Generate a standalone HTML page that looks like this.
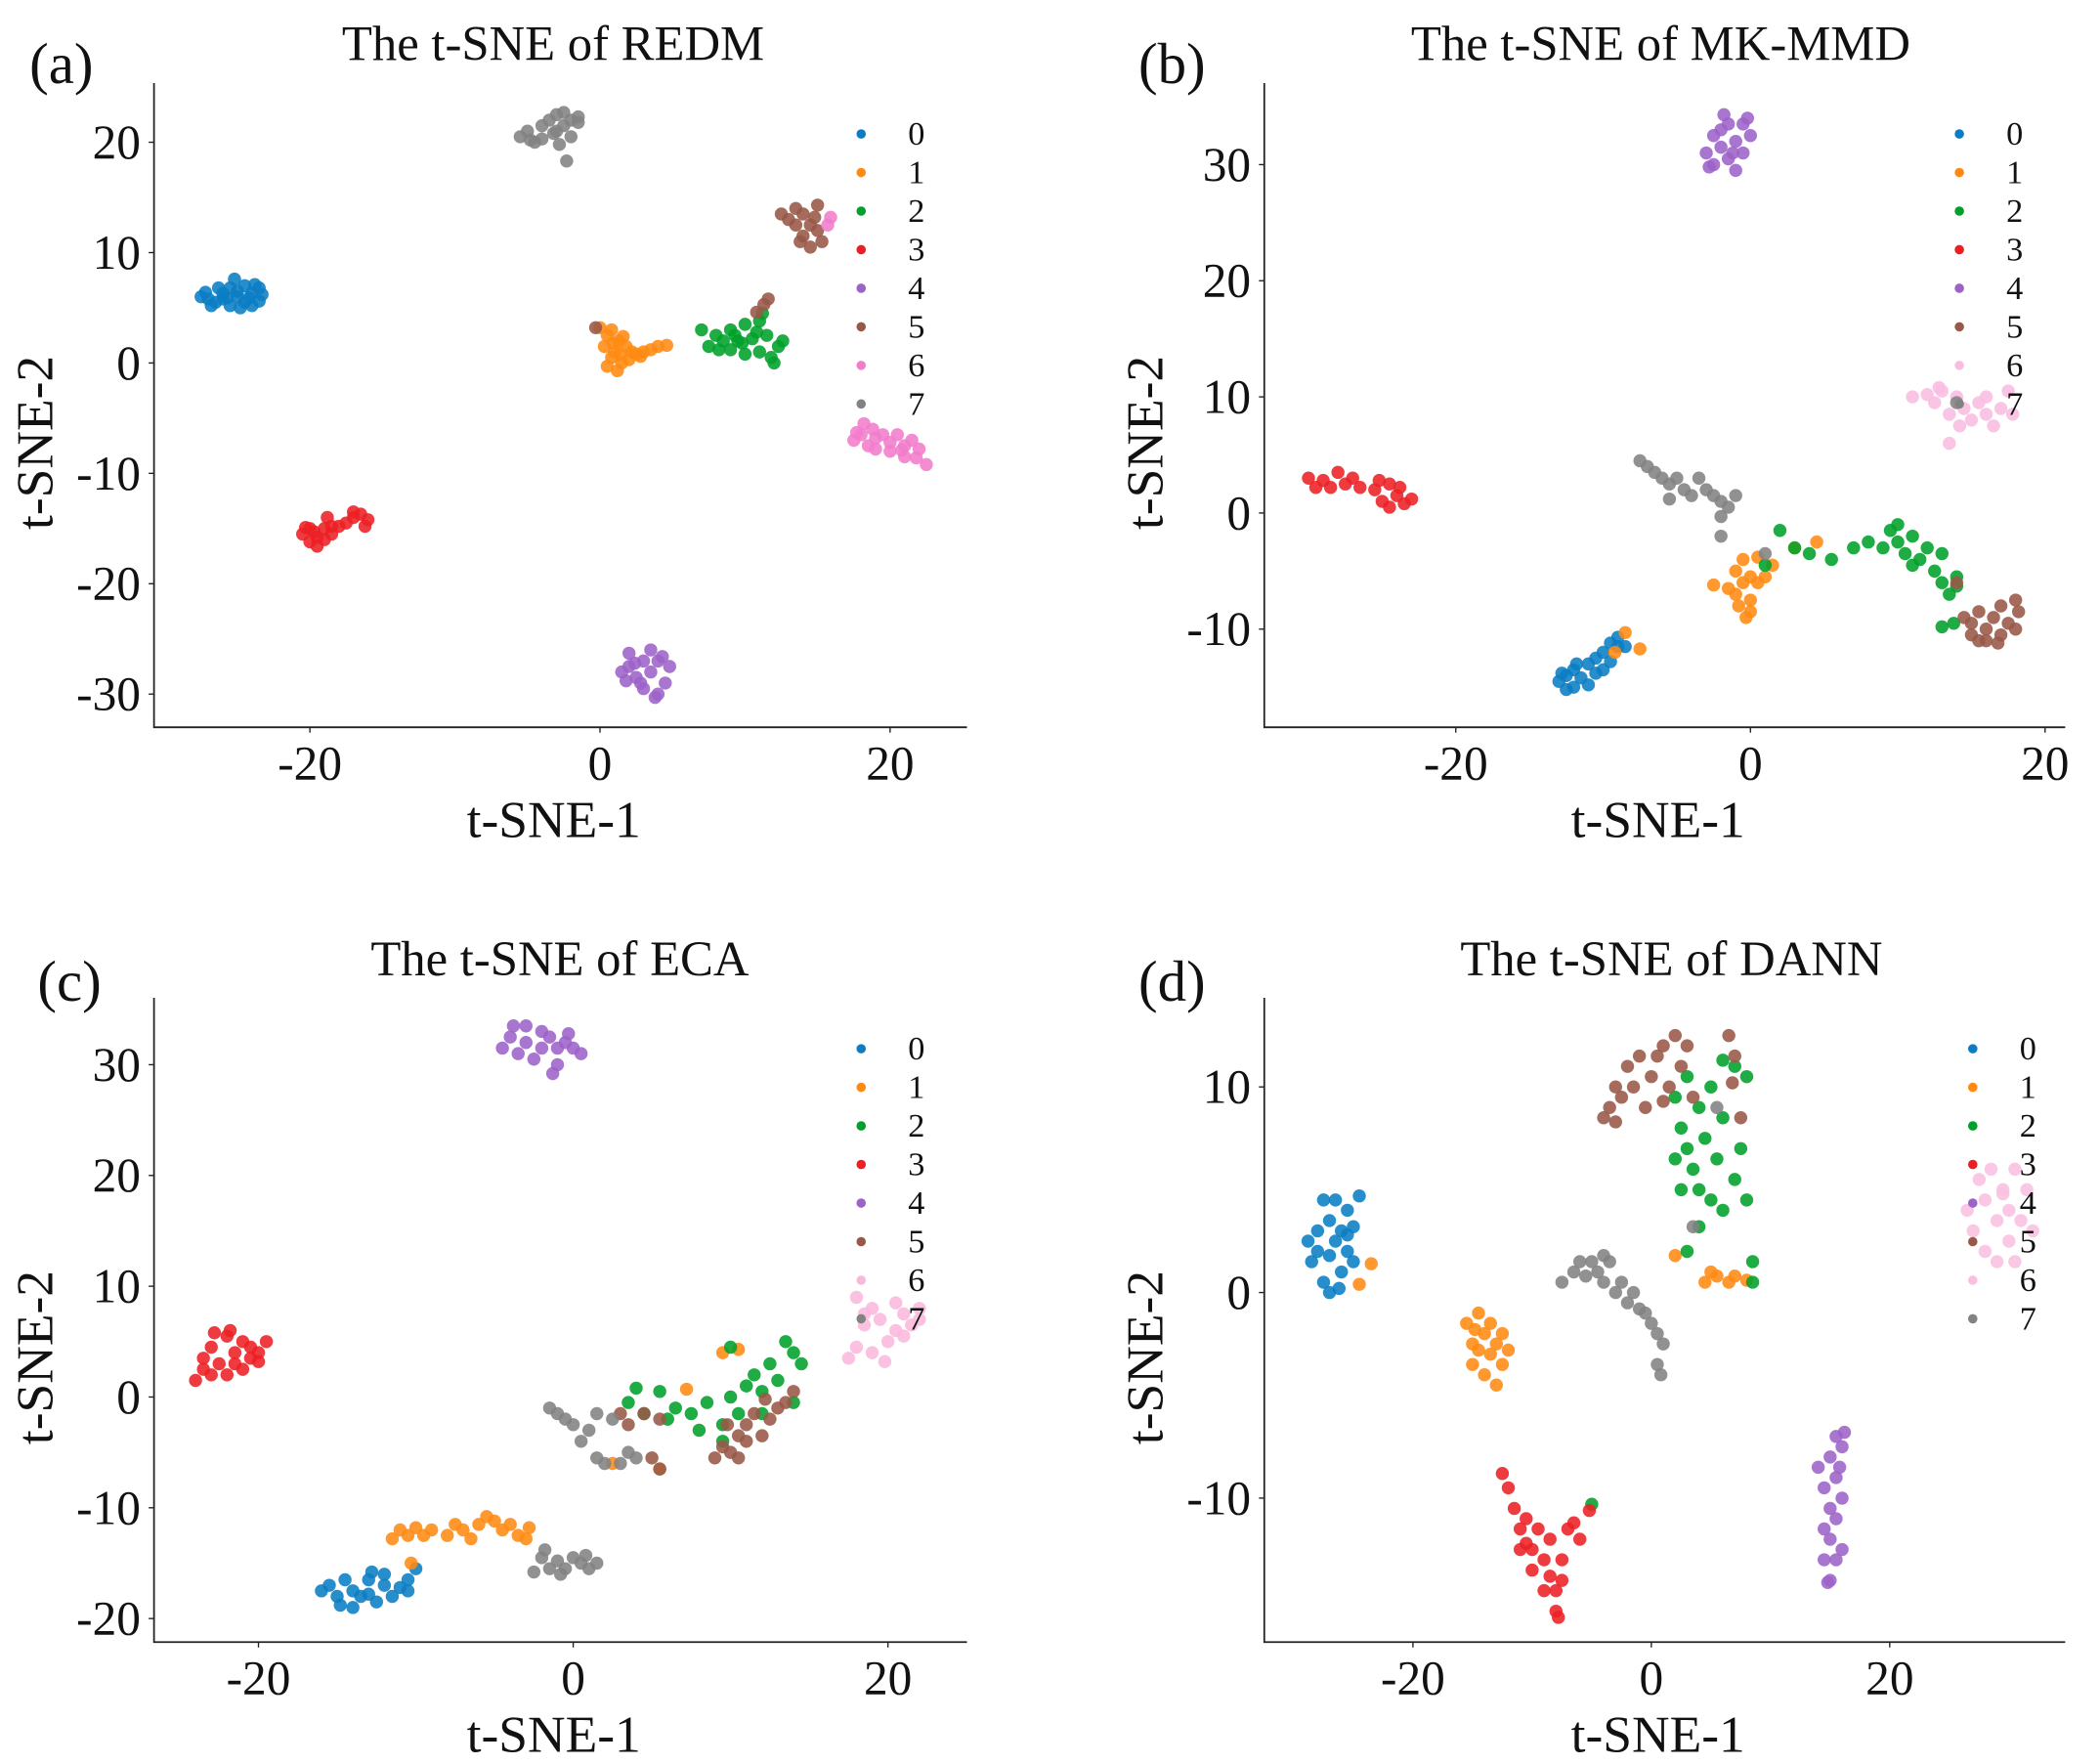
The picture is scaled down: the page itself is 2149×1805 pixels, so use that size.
<!DOCTYPE html>
<html><head><meta charset="utf-8"><style>
html,body{margin:0;padding:0;background:#fff}
svg{display:block}
text{font-family:"Liberation Serif",serif;fill:#111}
</style></head><body>
<svg id="fig" width="2149" height="1805" viewBox="0 0 1568 1317" xmlns="http://www.w3.org/2000/svg"></svg>
<script>
// ---- data: per-panel cluster points in t-SNE coordinates ("x,y x,y ...") ----
const classLabels = ["0","1","2","3","4","5","6","7"];
const classColors = ["#0a7dc4","#ff8a12","#00a02a","#ec2024","#9c62c8","#985848","#f27ccc","#828282"];
const panelTitles = ["The t-SNE of REDM","The t-SNE of MK-MMD","The t-SNE of ECA","The t-SNE of DANN"];
const panelTags = ["(a)","(b)","(c)","(d)"];
const xTicksA = [-20,0,20], yTicksA = [20,10,0,-10,-20,-30];
const xTicksB = [-20,0,20], yTicksB = [30,20,10,0,-10];
const xTicksC = [-20,0,20], yTicksC = [30,20,10,0,-10,-20];
const xTicksD = [-20,0,20], yTicksD = [10,0,-10];
const pointsA = [
"-27.5,6 -27,5.8 -26.5,5.5 -26,6.3 -25.5,5.2 -25.5,6.8 -25,6 -24.5,5.5 -24.5,7 -24,6.3 -23.5,5.6 -23.5,6.8 -26.8,5.2 -25.2,7.6 -24.8,5 -23.3,6.2 -26,5.8 -25,6.5 -24,5.2 -27.2,6.4 -26.3,6.8 -25.7,5.9 -24.2,5.9 -23.8,7.1",
"0,3.2 0.5,2.5 0.3,1.5 0.8,0.5 0.5,-0.3 1,1 1.3,2 1.5,0 1.8,1.5 2.2,1 2.5,0.8 3,1 3.5,1.2 4,1.5 4.6,1.6 0.8,3 1.2,-0.7 2,0.3 1.6,2.4 2.8,0.6 0.9,1.8 1.4,0.8",
"7,3 7.5,1.5 8,2.5 8.5,2 9,3 9,1.2 9.5,2 10,3.5 10,0.8 10.5,2.2 11,1 11,3.8 11.5,2.5 12,0 12.3,1.5 12.6,2 11.2,4.5 9.8,1.8 8.2,1.2 11.8,0.5 10.8,2.8 9.3,2.5",
"-20.5,-15.5 -20,-16.2 -20,-15 -19.5,-15.8 -19,-15 -19,-16 -18.5,-14.8 -18.5,-15.5 -18,-14.8 -17.5,-14.5 -17,-14 -16.5,-13.7 -16,-14.2 -16.2,-14.8 -17,-13.5 -20.3,-14.9 -19.5,-16.6 -18.8,-14 -19.7,-15.3",
"1.5,-28 2,-27.5 2,-26.3 2.5,-28.5 3,-27 3,-29.5 3.5,-28 3.5,-26 4,-27 4,-30 4.5,-29 4.8,-27.5 2.8,-29 3.8,-30.3 1.8,-28.8 4.3,-26.6 2.4,-27.2",
"12.5,13.5 13,13 13.5,14 13.5,12.5 14,13.5 14,11.5 14.5,12.5 14.5,10.5 15,12 15,14.3 15.3,11 13.8,11 14.8,13.2 11.3,5.3 11.6,5.8 10.8,4.6 -0.3,3.2",
"17.5,-7 18,-6.5 18.2,-5.5 18.5,-7.5 19,-6.8 19,-7.8 19.5,-6.5 20,-7.2 20,-8 20.5,-6.5 21,-7.5 21,-8.5 21.5,-7 22,-7.8 22.5,-9.2 21.8,-8.6 18.8,-6 20.8,-7.9 17.7,-6.3 15.7,12.5 15.9,13.2",
"-5.5,20.5 -5,21 -4.5,20 -4,21.5 -4,20.3 -3.5,22 -3,21 -3,22.5 -2.5,21.5 -2.5,22.7 -2,22 -2,20.5 -1.5,21.8 -1.5,22.3 -2.3,18.3 -4.8,20.2 -3.2,20.8 -2.8,19.8"];
const pointsB = [
"-13,-14.5 -12.5,-15.2 -12.5,-14 -12,-13.5 -12,-15 -11.5,-14.2 -11,-13 -11,-14.8 -10.5,-13.8 -10.5,-12.5 -10,-13.5 -10,-12 -9.5,-11.2 -9.5,-12.8 -9,-11.5 -9,-10.7 -8.5,-11.5 -11.8,-13 -12.8,-13.8",
"-1.5,-6.5 -1,-5 -1,-7 -0.5,-4 -0.5,-6 0,-8.5 0,-5.5 -0.3,-9 0,-7.5 0.5,-6 0.5,-3.8 1,-5.5 1.5,-4.5 -2.5,-6.2 -0.8,-8 4.5,-2.5 3,-3 -8.5,-10.3 -7.5,-11.7 -9.2,-12",
"2,-1.5 3,-3 4,-3.5 5.5,-4 7,-3 8,-2.5 9,-3 9.5,-1.5 10,-2.5 10.5,-3.5 11,-2 11.5,-4 12,-3 12.5,-5 13,-3.5 13.5,-7 13,-6 11,-4.5 10,-1 14,-5.5 14,-6.3 13.8,-9.5 13,-9.8 1,-4.5",
"-30,3 -29.5,2.2 -29,2.8 -28.5,2.2 -28,3.5 -27.5,2.5 -27,3 -26.5,2.2 -25.5,2 -25,1 -24.5,2.5 -24,1.5 -23.5,0.8 -23,1.2 -25.2,2.8 -24.5,0.5 -23.8,2.2",
"-3,31 -2.5,32.5 -2.5,30 -2,33 -2,31.5 -1.5,30.5 -1.5,33.5 -1,32 -0.5,31 -0.5,33.5 0,32.5 -1,29.5 -2.8,29.8 -0.2,34 -1.8,34.3 -1.2,31",
"14.5,-9 15,-10.5 15.5,-8.5 16,-10 16,-11 16.5,-9 17,-10.5 17,-8 17.5,-9.5 18,-7.5 18,-10 18.2,-8.5 15,-9.5 14,-6 16.8,-11.2 15.5,-11",
"11,10 12,10.2 12.5,9.5 13,10.5 13.5,8.5 14,10 14.5,9 15,8 15.5,9.5 16,10 16,8.5 16.5,7.5 17,9 17.5,10.5 17.8,8.5 14.2,7.5 13.5,6 12.8,10.8",
"-7.5,4.5 -7,4 -6.5,3.5 -6,3 -5.5,2.5 -5,3 -4.5,2 -4,1.5 -3.5,3 -3,2 -2.5,1.5 -2,1 -2,-0.3 -1.5,0.5 -1,1.5 -5.5,1.2 -2,-2 1,-3.5 14,9.5"];
const pointsC = [
"-16,-17.5 -15.5,-17 -15,-18 -14.5,-16.5 -14,-17.5 -14,-19 -13.5,-18 -13,-16.5 -13,-17.8 -12.5,-18.5 -12,-17 -12,-16 -11.5,-18 -11,-17.2 -10.5,-16.5 -10,-15.5 -10.5,-17.5 -14.8,-18.8 -12.8,-15.8",
"-11.5,-12.8 -11,-12 -10.5,-12.5 -10,-11.8 -9.5,-12.5 -9,-12 -8,-12.5 -7.5,-11.5 -7,-12 -6.5,-12.8 -6,-11.5 -5.5,-10.8 -5,-11.2 -4.5,-12 -4,-11.5 -3.5,-12.5 -3,-12.8 -2.8,-11.8 -10.3,-15 9.5,4 10.5,4.3 7.2,0.7 2.5,-6 5.5,-6.5",
"3.5,-0.5 4.5,-1.5 5.5,0.5 6,-2 6.5,-1 7.5,-1.5 8,-3 9.5,-2.5 10,0 10.5,-1.5 10,4.5 11,1 11.5,2 12,0.5 12,-1.5 12.5,3 13,1.5 13.5,5 14,4 14.5,3 14,-0.5 9.5,-4 4,0.8 8.5,-0.5",
"-24,1.5 -23.5,2.5 -23.5,3.5 -23,2 -23,4.5 -22.5,3 -22,5.5 -22,2 -21.5,4 -21.5,3 -21,5 -21,2.5 -20.5,3.5 -20.5,4.5 -20,4 -19.5,5 -22.8,5.8 -21.8,6 -20,3.2",
"-4.5,31.5 -4,32.5 -3.5,31 -3,33.5 -3,32 -2.5,30.5 -2,33 -2,31.5 -1.5,32.5 -1,30 -1,31.5 -0.5,32 0,31.5 0.5,31 -0.3,32.8 -3.8,33.5 -1.3,29.2",
"3,-1.5 3.5,-2.5 4.5,-1.5 5.5,-2 5.5,-6.5 5,-5.5 9,-5.5 9.5,-4.5 10,-5 10.5,-3.5 11,-4 11,-2.5 11.5,-1.5 12,-3.5 12.5,-2 13,-1 13.5,-0.5 14,0.5 10.5,-5.5 9.8,-2.5 12.2,-0.2",
"17.5,3.5 18,4.5 18,9 18.5,6.5 19,8 19,4 19.5,7 20,5 20.5,6 21,7.5 21,5.5 21.5,6.5 22,7 22,8 19.8,3.2 20.5,8.5 18.5,7.5",
"-1.5,-1 -1,-1.5 -0.5,-2 0,-2.5 0.5,-4 1,-3 1.5,-5.5 2,-6 3,-6 3.5,-5 4,-5.5 2.5,-2 1.5,-1.5 -2,-14.5 -1.5,-15.5 -1,-14.8 -0.5,-15.5 0,-14.5 0.5,-15 1,-15.5 1.5,-15 -1.8,-13.8 -2.5,-15.8 -0.8,-16 0.8,-14.3"];
const pointsD = [
"-28.5,1.5 -28,3 -28,2 -27.5,4.5 -27.5,0.5 -27,3.5 -27,1.8 -26.5,2.5 -26.5,4.5 -26,1 -26,3 -25.5,2 -25.5,4 -25,3.2 -25,1.5 -24.5,4.7 -27,0 -28.8,2.5 -26.2,0.2 -25.5,2.8",
"-15.5,-1.5 -15,-2.5 -15,-3.5 -14.5,-1 -14.5,-2.8 -14,-2 -14,-4 -13.5,-3 -13.5,-1.5 -13,-2.5 -13,-4.5 -12.5,-2 -12.5,-3.5 -12,-2.8 -14.8,-1.8 -23.5,1.4 -24.5,0.4 2,1.8 4.5,0.5 5.5,0.8 6.5,0.5 7,0.8 8,0.6 5,1",
"2,9.5 2.5,8 3,10.5 3,7 3.5,6 4,9 4,5 4.5,7.5 5,10 5,4.5 5.5,6.5 6,8.5 6,4 7,11 7,5.5 7.5,7 8,4.5 8,10.5 2.5,5 4,3.2 3,2 8.5,1.5 8.5,0.5 6,11.3 2,6.5 -5,-10.3",
"-12.5,-8.8 -12,-9.5 -11.5,-10.5 -11,-11.5 -11,-12.5 -10.5,-11 -10,-12.5 -10,-13.5 -9.5,-11.5 -9,-13 -9,-14.5 -8.5,-12 -8.5,-13.8 -8,-14.5 -8,-15.5 -7.5,-13 -7.5,-14 -7,-11.5 -6.5,-11.2 -6,-12 -7.8,-15.8 -5.2,-10.6 -10.5,-12.2",
"14,-8.5 14.5,-9.5 14.5,-11.5 14.5,-13 15,-8 15,-10.5 15,-12 15,-14 15.5,-7 15.5,-9 15.5,-11 15.5,-13 16,-7.5 16,-10 16,-12.5 16.2,-6.8 14.8,-14.1 15.8,-8.5",
"-4,8.5 -3.5,9 -3,10 -2.5,9.5 -2,11 -1.5,10 -1,11.5 -0.5,9 0,10.5 0.5,11.5 1,12 1.5,10 2,12.5 2.5,11 3,12 3.5,9.5 6.5,12.5 7,11.5 7.5,8.5 -3,8.3 1,9.3 6.8,10.2",
"26.5,4 27,3 27.5,5.5 28,2 28,4.5 28.5,6 29,1.5 29,3.5 29.5,5 30,4 30,2.5 30.5,6 31,3.5 31.5,5 32,3 30.5,1.5 29.5,4.8",
"-7.5,0.5 -6.5,1 -6,1.5 -5.5,0.8 -5,1.5 -4.5,1 -4,0.5 -3.5,1.5 -3,0 -2.5,0.5 -2,-0.5 -1.5,0 -1,-0.8 -0.5,-1 0,-1.5 0.5,-2 0.5,-3.5 0.8,-4 1,-2.5 -4,1.8 3.5,3.2 5.5,9"];

// ---- layout (display units of the 1568x1317 viewBox) ----
const panels = [
 {pts:pointsA,xt:xTicksA,yt:yTicksA,L:115,R:722,T:62,B:543,x0:448,xs:10.83,y0:271,ys:8.24,legX:643,legY:100,titleX:413,titleY:45,tagX:22,tagY:62,pink:"#f27ccc"},
 {pts:pointsB,xt:xTicksB,yt:yTicksB,L:944,R:1542,T:62,B:543,x0:1307,xs:11.0,y0:383,ys:8.67,legX:1463,legY:100,titleX:1240,titleY:45,tagX:850,tagY:62,pink:"#f9bde0"},
 {pts:pointsC,xt:xTicksC,yt:yTicksC,L:115,R:722,T:745,B:1226,x0:428,xs:11.75,y0:1043,ys:8.27,legX:643,legY:783,titleX:418,titleY:728,tagX:28,tagY:747,pink:"#f9b8dc"},
 {pts:pointsD,xt:xTicksD,yt:yTicksD,L:944,R:1542,T:745,B:1226,x0:1233,xs:8.9,y0:965,ys:15.35,legX:1473,legY:783,titleX:1248,titleY:728,tagX:850,tagY:747,pink:"#f9c0e0"}];

const NS="http://www.w3.org/2000/svg";
const svg=document.getElementById('fig');
function mk(tag,attrs,parent){const e=document.createElementNS(NS,tag);for(const k in attrs)e.setAttribute(k,attrs[k]);(parent||svg).appendChild(e);return e;}

panels.forEach((p,pi)=>{
  const g=mk('g',{});
  
  
  const sx=v=>p.x0+v*p.xs, sy=v=>p.y0-v*p.ys;
  const ax=mk('path',{d:`M${p.L},${p.T} L${p.L},${p.B} L${p.R},${p.B}`,fill:'none',stroke:'#222','stroke-width':1.3},g);
  
  
  p.xt.forEach(v=>{
    mk('line',{x1:sx(v),x2:sx(v),y1:p.B,y2:p.B+4,stroke:'#222','stroke-width':1},g);
    const t=mk('text',{x:sx(v),y:p.B+39,'font-size':36,'text-anchor':'middle'},g);t.textContent=v;
    
    
  });
  p.yt.forEach(v=>{
    mk('line',{x1:p.L-4,x2:p.L,y1:sy(v),y2:sy(v),stroke:'#222','stroke-width':1},g);
    const t=mk('text',{x:p.L-10,y:sy(v)+12,'font-size':36,'text-anchor':'end'},g);t.textContent=v;
    
    
  });
  const xl=mk('text',{x:(p.L+p.R)/2-5,y:p.B+82,'font-size':39,'text-anchor':'middle'},g);xl.textContent='t-SNE-1';
  
  
  const yc=(p.T+p.B)/2+28;
  const yl=mk('text',{x:0,y:0,'font-size':39,'text-anchor':'middle',transform:`translate(${p.L-76},${yc}) rotate(-90)`},g);yl.textContent='t-SNE-2';
  
  
  const ti=mk('text',{x:p.titleX,y:p.titleY,'font-size':37,'text-anchor':'middle'},g);ti.textContent=panelTitles[pi];
  
  
  const tg=mk('text',{x:p.tagX,y:p.tagY,'font-size':43},g);tg.textContent=panelTags[pi];
  
  
  p.pts.forEach((s,ci)=>{
    const col=ci===6?p.pink:classColors[ci];
    s.trim().split(/\s+/).forEach(pr=>{
      const [x,y]=pr.split(',').map(Number);
      const c=mk('circle',{cx:sx(x),cy:sy(y),r:4.9,fill:col,'fill-opacity':0.88},g);
      
      
    });
  });
  classLabels.forEach((lb,i)=>{
    const y=p.legY+i*28.8;
    const d=mk('circle',{cx:p.legX,cy:y,r:3.5,fill:i===6?p.pink:classColors[i]},g);
    
    
    const t=mk('text',{x:p.legX+35,y:y+8,'font-size':25},g);t.textContent=lb;
    
    
  });
});
</script>
</body></html>
